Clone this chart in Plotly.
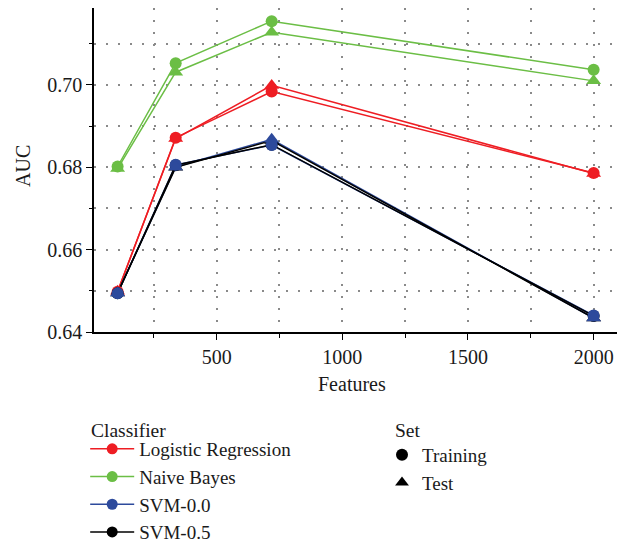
import plotly.graph_objects as go

features = [106, 337, 719, 2000]

classifiers = ["Logistic Regression", "Naive Bayes", "SVM-0.0", "SVM-0.5"]
colors = {"Logistic Regression": "#EE1D23", "Naive Bayes": "#6BBE45",
          "SVM-0.0": "#2D4A9C", "SVM-0.5": "#000000"}

train_lr = [0.6498, 0.6872, 0.6984, 0.6786]
test_lr = [0.6499, 0.6870, 0.6999, 0.6785]
train_nb = [0.6802, 0.7053, 0.7155, 0.7037]
test_nb = [0.6797, 0.7031, 0.7128, 0.7010]
train_svm0 = [0.6494, 0.6806, 0.6854, 0.6440]
test_svm0 = [0.6495, 0.6801, 0.6868, 0.6434]
train_svm5 = [0.6494, 0.6805, 0.6855, 0.6439]
test_svm5 = [0.6495, 0.6800, 0.6865, 0.6434]

data = {
    "Logistic Regression": (train_lr, test_lr),
    "Naive Bayes": (train_nb, test_nb),
    "SVM-0.0": (train_svm0, test_svm0),
    "SVM-0.5": (train_svm5, test_svm5),
}

FONT = "Liberation Serif"
W, H = 631, 543
ML, MR, MT, MB = 94, 14, 8, 211
PW, PH = W - ML - MR, H - MT - MB


def px_x(px):
    return (px - ML) / PW


def px_y(py):
    return (H - MB - py) / PH


fig = go.Figure()

# lines
for c in classifiers:
    tr, te = data[c]
    for ys in (tr, te):
        fig.add_trace(go.Scatter(x=features, y=ys, mode="lines",
                                 line=dict(color=colors[c], width=1.5),
                                 showlegend=False, hoverinfo="skip"))

# markers (blue drawn last so it sits on top of black)
for c in ["Logistic Regression", "Naive Bayes", "SVM-0.5", "SVM-0.0"]:
    tr, te = data[c]
    fig.add_trace(go.Scatter(x=features, y=tr, mode="markers",
                             marker=dict(color=colors[c], size=12, symbol="circle"),
                             showlegend=False))
    fig.add_trace(go.Scatter(x=features, y=te, mode="markers",
                             marker=dict(color=colors[c], size=13, symbol="triangle-up"),
                             showlegend=False))

# legend entries: Classifier
for c in classifiers:
    fig.add_trace(go.Scatter(x=[None], y=[None], mode="lines+markers", name=c,
                             line=dict(color=colors[c], width=1.5),
                             marker=dict(color=colors[c], size=11, symbol="circle"),
                             legend="legend"))
# legend entries: Set
for name, sym in [("Training", "circle"), ("Test", "triangle-up")]:
    fig.add_trace(go.Scatter(x=[None], y=[None], mode="markers", name=name,
                             marker=dict(color="black", size=12, symbol=sym),
                             legend="legend2"))

grid = dict(showgrid=True, gridcolor="#8a8a8a", gridwidth=1.5, griddash="2px,10px")

fig.update_layout(
    width=W, height=H,
    margin=dict(l=ML, r=MR, t=MT, b=MB, autoexpand=False),
    plot_bgcolor="white", paper_bgcolor="white",
    font=dict(family=FONT, size=20, color="#1a1a1a"),
    xaxis=dict(range=[12, 2093], tickvals=[500, 1000, 1500, 2000],
               ticks="outside", ticklen=6, tickcolor="black",
               showline=True, linecolor="black", linewidth=1.5,
               zeroline=False, automargin=False, **grid,
               minor=dict(dtick=250, tick0=0, ticks="outside", ticklen=4,
                          tickcolor="black", **grid)),
    yaxis=dict(range=[0.64, 0.7187], tickvals=[0.64, 0.66, 0.68, 0.70],
               tickformat=".2f",
               ticks="outside", ticklen=6, tickcolor="black",
               showline=True, linecolor="black", linewidth=1.5,
               zeroline=False, automargin=False, **grid,
               minor=dict(dtick=0.01, tick0=0.64, ticks="outside", ticklen=3,
                          tickcolor="black", **grid)),
    annotations=[
        dict(text="Features", xref="paper", yref="paper",
             x=px_x(352), y=px_y(384), xanchor="center", yanchor="middle",
             showarrow=False, font=dict(size=20)),
        dict(text="AUC", xref="paper", yref="paper",
             x=px_x(23), y=px_y(166), xanchor="center", yanchor="middle",
             textangle=-90, showarrow=False, font=dict(size=20)),
        dict(text="Classifier", xref="paper", yref="paper",
             x=px_x(89), y=px_y(430), xanchor="left", yanchor="middle",
             showarrow=False, font=dict(size=19.5)),
        dict(text="Set", xref="paper", yref="paper",
             x=px_x(393), y=px_y(430), xanchor="left", yanchor="middle",
             showarrow=False, font=dict(size=19.5)),
    ],
    legend=dict(xref="container", yref="container", x=0.135, y=1 - 430 / 543,
                xanchor="left", yanchor="top",
                font=dict(size=19),
                bgcolor="rgba(0,0,0,0)", tracegroupgap=0, itemwidth=44),
    legend2=dict(xref="container", yref="container", x=382 / 631, y=1 - 436 / 543,
                 xanchor="left", yanchor="top",
                 font=dict(size=19),
                 bgcolor="rgba(0,0,0,0)", itemwidth=30),
)

fig.write_html("out.html")
